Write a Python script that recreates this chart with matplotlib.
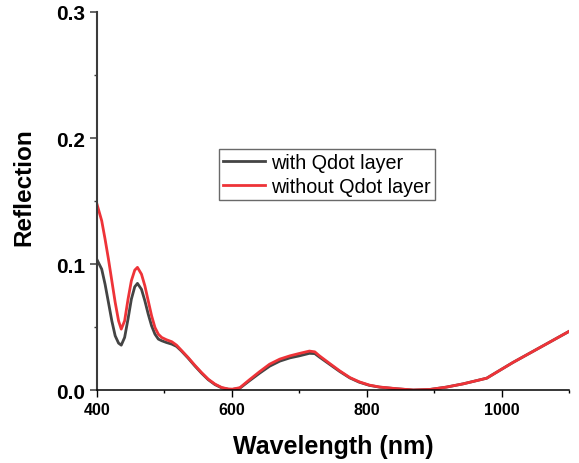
import matplotlib.pyplot as plt
from matplotlib.ticker import MultipleLocator

plt.rcParams["font.family"] = ["Liberation Sans", "DejaVu Sans"]

# wavelength grid (nm) and reflection
wavelength = [400, 407, 412, 417, 422, 427, 432, 436, 441, 446, 451, 456, 460,
              466, 471, 476, 481, 486, 491, 496, 503, 511, 518, 525, 535, 545,
              555, 565, 575, 585, 595, 601, 612, 626, 641, 656, 671, 686, 700,
              715, 723, 730, 745, 760, 775, 789, 804, 819, 844, 869, 893, 918,
              943, 968, 978, 992, 1017, 1042, 1066, 1100]

without_qdot = [0.1475, 0.1344, 0.1198, 0.1040, 0.0868, 0.0696, 0.0550, 0.0484,
                0.0550, 0.0720, 0.0868, 0.0952, 0.0974, 0.0920, 0.0828, 0.0709,
                0.0590, 0.0497, 0.0444, 0.0418, 0.0400, 0.0384, 0.0357, 0.0317,
                0.0260, 0.0198, 0.0140, 0.0087, 0.0048, 0.0021, 0.0009, 0.0008,
                0.0020, 0.0082, 0.0146, 0.0206, 0.0246, 0.0272, 0.0291, 0.0310,
                0.0304, 0.0272, 0.0212, 0.0153, 0.0100, 0.0066, 0.0040, 0.0025,
                0.0012, 0.0001, 0.0005, 0.0024, 0.0050, 0.0082, 0.0095, 0.0140,
                0.0220, 0.0294, 0.0365, 0.0466]

with_qdot = [0.1035, 0.0960, 0.0840, 0.0696, 0.0550, 0.0431, 0.0373, 0.0357,
             0.0418, 0.0563, 0.0722, 0.0820, 0.0847, 0.0800, 0.0709, 0.0603,
             0.0510, 0.0444, 0.0405, 0.0392, 0.0378, 0.0365, 0.0347, 0.0312,
             0.0255, 0.0193, 0.0135, 0.0083, 0.0044, 0.0018, 0.0007, 0.0006,
             0.0016, 0.0074, 0.0134, 0.0190, 0.0230, 0.0256, 0.0272, 0.0292,
             0.0290, 0.0262, 0.0205, 0.0148, 0.0097, 0.0063, 0.0038, 0.0024,
             0.0011, 0.0001, 0.0005, 0.0024, 0.0050, 0.0082, 0.0095, 0.0140,
             0.0220, 0.0294, 0.0365, 0.0466]

AXIS_COLOR = "#3c3c3c"

fig = plt.figure(figsize=(5.79, 4.64), dpi=100)
ax = fig.add_axes([0.1675, 0.157, 0.8152, 0.815])

ax.plot(wavelength, with_qdot, color="#444444", lw=2.0,
        solid_joinstyle="round", label="with Qdot layer")
ax.plot(wavelength, without_qdot, color="#ee3338", lw=2.0,
        solid_joinstyle="round", label="without Qdot layer")

ax.set_xlim(400, 1100)
ax.set_ylim(0, 0.3)
ax.xaxis.set_major_locator(MultipleLocator(200))
ax.xaxis.set_minor_locator(MultipleLocator(100))
ax.yaxis.set_major_locator(MultipleLocator(0.1))
ax.yaxis.set_minor_locator(MultipleLocator(0.05))
ax.set_xticks([400, 600, 800, 1000])

for side in ("top", "right"):
    ax.spines[side].set_visible(False)
ax.spines["left"].set_color(AXIS_COLOR)
ax.spines["left"].set_linewidth(1.5)
ax.spines["bottom"].set_color("black")
ax.spines["bottom"].set_linewidth(1.1)

ax.tick_params(axis="y", which="major", direction="out", length=4.7, width=1.1,
               color=AXIS_COLOR, labelsize=15, pad=4)
ax.tick_params(axis="y", which="minor", direction="out", length=2.2, width=1.0,
               color=AXIS_COLOR)
ax.tick_params(axis="x", which="major", direction="out", length=4.7, width=1.0,
               color="black", labelsize=11.5, pad=4)
ax.tick_params(axis="x", which="minor", direction="out", length=2.2, width=1.0,
               color="black")
for lbl in ax.get_xticklabels() + ax.get_yticklabels():
    lbl.set_fontweight("bold")

ax.set_xlabel("Wavelength (nm)", fontsize=18, fontweight="bold")
ax.xaxis.label.set_va("baseline")
ax.xaxis.set_label_coords(0.5, -0.165)
ax.set_ylabel("Reflection", fontsize=17.5, fontweight="bold")
ax.yaxis.label.set_va("baseline")
ax.yaxis.set_label_coords(-0.142, 0.54)

leg = ax.legend(loc="upper left", bbox_to_anchor=(0.258, 0.638),
                borderaxespad=0, fontsize=14.2, fancybox=False,
                handlelength=2.13, handletextpad=0.34, borderpad=0.2,
                labelspacing=0.28)
leg.get_frame().set_edgecolor("#444444")
leg.get_frame().set_linewidth(1.0)

fig.savefig("out.png", dpi=100)
